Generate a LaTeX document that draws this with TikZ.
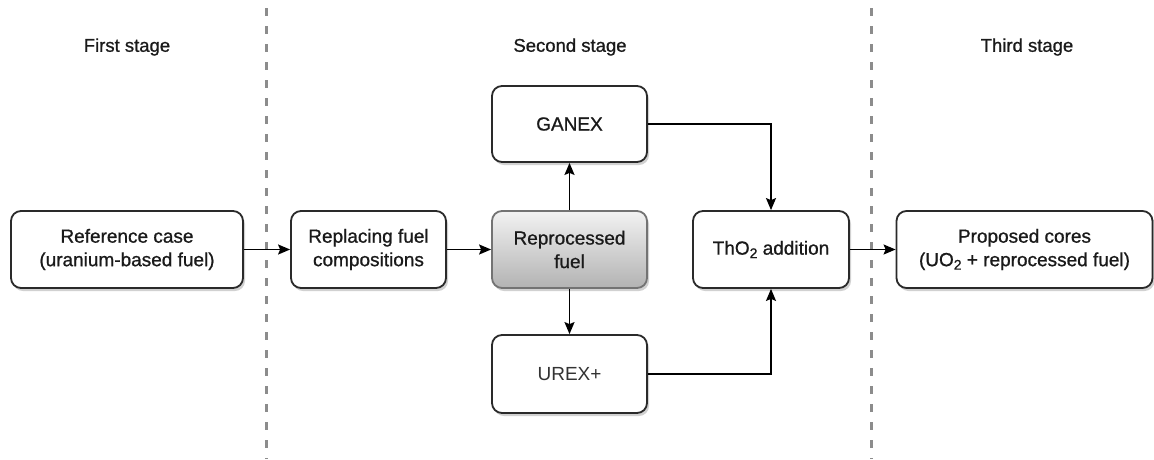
\documentclass[tikz,border=0pt]{standalone}
\usepackage{fontspec}
\setmainfont{Liberation Sans}
\newfontfamily\semib[FakeBold=0.9]{Liberation Sans}
\usetikzlibrary{arrows.meta,shadows,positioning}
\definecolor{txt}{HTML}{1A1A1A}
\definecolor{dashc}{HTML}{8C8C8C}
\definecolor{edge}{HTML}{2A2A2A}
\newcommand{\subtwo}{\raisebox{-0.35ex}{\fontsize{14}{14}\selectfont 2}}
\tikzset{
  boxstyle/.style={draw=edge, line width=1.8pt, fill=white, rounded corners=10pt,
    minimum height=77pt, inner sep=0pt, align=center, text=txt,
    font=\semib\fontsize{19}{23.5}\selectfont,
    drop shadow={shadow xshift=2pt, shadow yshift=-3pt, fill=black, opacity=0.18}},
  gradbox/.style={boxstyle, draw=gray!90!black, top color=white!95!black, bottom color=black!30},
  stagelabel/.style={font=\semib\fontsize{18.5}{22}\selectfont, text=txt, inner sep=0pt},
  divider/.style={draw=dashc, line width=3pt, dash pattern=on 8pt off 10pt},
  conn/.style={draw=black, line width=1.6pt, -{Stealth[length=12pt,width=10pt,inset=2pt]}}
}
\begin{document}
\begin{tikzpicture}[x=1pt,y=-1pt]
\useasboundingbox (0,0) rectangle (1154,459);
% dividers
\coordinate (d1t) at (266,8);
\coordinate (d1b) at (266,459);
\coordinate (d2t) at (871,8);
\coordinate (d2b) at (871,459);
\draw[divider] (d1t) -- (d1b);
\draw[divider] (d2t) -- (d2b);
% stage labels
\node[stagelabel] (s1) at (127,47) {First stage};
\node[stagelabel] (s2) at (570,47) {Second stage};
\node[stagelabel] (s3) at (1027,47) {Third stage};
% boxes
\node[boxstyle, minimum width=232pt] (ref) at (127,249.5) {Reference case\\(uranium-based fuel)};
\node[boxstyle, minimum width=155pt] (repl) at (368.5,249.5) {Replacing fuel\\compositions};
\node[gradbox, minimum width=155pt] (repro) at (569.5,249.5) {Reprocessed\\fuel};
\node[boxstyle, minimum width=155pt, minimum height=76pt] (ganex) at (569.5,124) {GANEX};
\node[boxstyle, minimum width=155pt, minimum height=78pt, font=\normalfont\fontsize{19}{23.5}\selectfont, text=black!80] (urex) at (569.5,374) {UREX+};
\node[boxstyle, minimum width=156pt] (tho) at (771,249.5) {ThO\subtwo{} addition};
\node[boxstyle, minimum width=256pt] (prop) at (1024.5,249.5) {Proposed cores\\(UO\subtwo{} + reprocessed fuel)};
% connectors
\draw[conn] (ref) -- (repl);
\draw[conn] (repl) -- (repro);
\draw[conn] (repro) -- (ganex);
\draw[conn] (repro) -- (urex);
\draw[conn] (ganex.east) -| (tho.north);
\draw[conn] (urex.east) -| (tho.south);
\draw[conn] (tho) -- (prop);
\end{tikzpicture}
\end{document}
